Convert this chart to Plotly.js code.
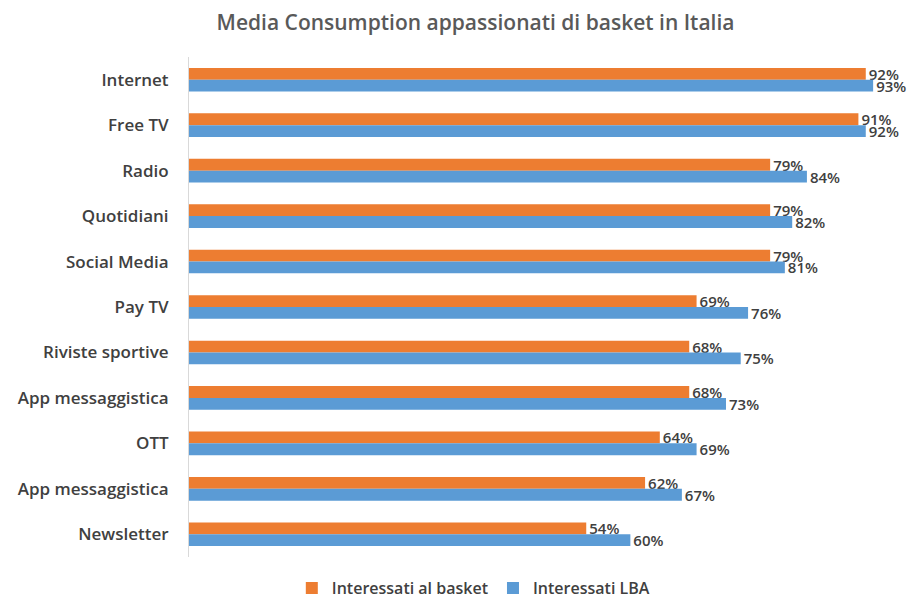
<!DOCTYPE html>
<html>
<head>
<meta charset="utf-8">
<script src="https://cdn.plot.ly/plotly-3.0.1.min.js"></script>
<style>html,body{margin:0;padding:0;background:#fff;}#chart{width:918px;height:605px;}</style>
</head>
<body>
<div id="chart"></div>
<script>
var categories = ["Internet","Free TV","Radio","Quotidiani","Social Media","Pay TV","Riviste sportive","App messaggistica","OTT","App messaggistica","Newsletter"];
var basket = [92,91,79,79,79,69,68,68,64,62,54];
var lba = [93,92,84,82,81,76,75,73,69,67,60];
var seriesNames = ["Interessati al basket","Interessati LBA"];
var idx = categories.map(function(_, i){ return i; });
var fontFam = "'Open Sans', 'Noto Sans', sans-serif";
function pct(a){ return a.map(function(v){ return v + '%'; }); }
var traces = [
  {type:'bar', orientation:'h', name:seriesNames[0], y:idx, x:basket, text:pct(basket), textposition:'outside', cliponaxis:false,
   constraintext:'none', marker:{color:'#ed7d31'}, textfont:{size:15,color:'#404040',family:fontFam,weight:600}},
  {type:'bar', orientation:'h', name:seriesNames[1], y:idx, x:lba, text:pct(lba), textposition:'outside', cliponaxis:false,
   constraintext:'none', marker:{color:'#5b9bd5'}, textfont:{size:15,color:'#404040',family:fontFam,weight:600}}
];
var layout = {
  width:918, height:605,
  margin:{l:189, r:0, t:57, b:40},
  paper_bgcolor:'#fff', plot_bgcolor:'#fff',
  title:{text:'Media Consumption appassionati di basket in Italia', x:0.518, xanchor:'center', y:0.962, yanchor:'middle',
         font:{size:21, color:'#595959', family:fontFam, weight:600}},
  barmode:'group', bargap:0.48, bargroupgap:0,
  xaxis:{range:[0,99.1], showgrid:false, showticklabels:false, zeroline:false, showline:false, ticks:''},
  yaxis:{range:[10.5,-0.5], tickmode:'array', tickvals:idx, ticktext:categories, showgrid:false, zeroline:false,
         showline:true, linecolor:'#d9d9d9', linewidth:1, ticks:'', ticklen:0, ticklabelstandoff:16,
         tickfont:{size:17, color:'#404040', family:fontFam, weight:600}},
  showlegend:true,
  legend:{orientation:'h', x:0.39, xanchor:'center', y:-0.063, yanchor:'middle', font:{size:16,color:'#404040',family:fontFam,weight:600},
          traceorder:'normal', itemwidth:30},
  uniformtext:{mode:false}
};
Plotly.newPlot('chart', traces, layout, {displayModeBar:false, staticPlot:true});
</script>
</body>
</html>
